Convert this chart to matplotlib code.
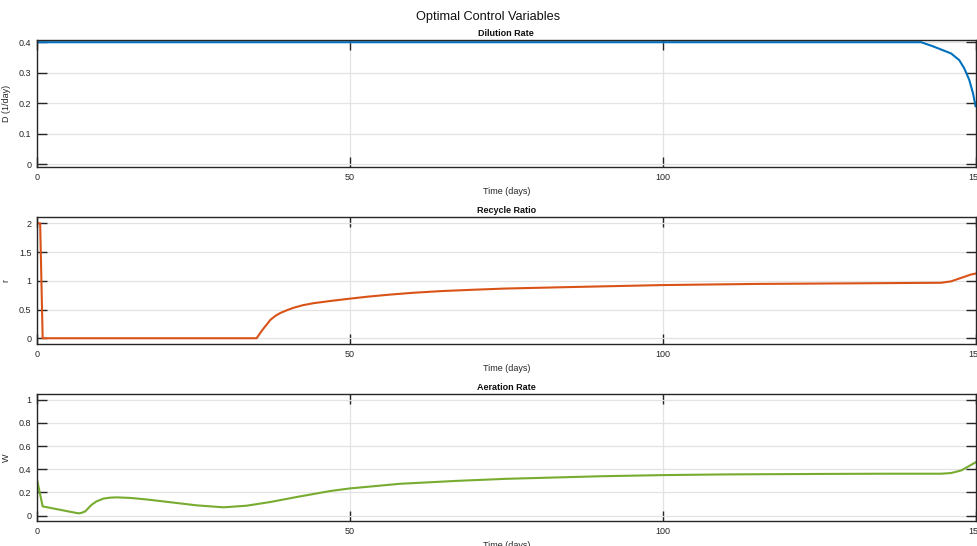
import matplotlib.pyplot as plt

plt.rcParams['font.family'] = ['Liberation Sans', 'DejaVu Sans']

# dilution rate
t_D = [0, 141.3, 143, 144.5, 146.1, 147.4, 148.2, 149, 149.6, 150]
D = [0.4, 0.4, 0.388, 0.376, 0.363, 0.341, 0.314, 0.276, 0.232, 0.19]

# recycle ratio
t_r = [0, 0.5, 0.9, 35.1, 35.6, 36.2, 36.8, 37.3, 38.1, 38.9, 40, 41, 42.5, 44.2,
       47, 50.1, 53, 56.5, 60, 64.5, 70, 75, 85, 100, 115, 130, 140, 144.5,
       146.1, 147.7, 148.5, 149.3, 150]
r = [2, 2, 0, 0, 0.08, 0.17, 0.25, 0.32, 0.39, 0.44, 0.49, 0.53, 0.575, 0.61,
     0.65, 0.69, 0.725, 0.76, 0.79, 0.82, 0.845, 0.865, 0.89, 0.925, 0.945,
     0.955, 0.962, 0.965, 0.99, 1.05, 1.08, 1.11, 1.125]

# aeration rate
t_W = [0, 0.9, 6.6, 7.1, 7.7, 8.2, 8.75, 9.5, 10.6, 11.6, 12.75, 14.9, 17.5, 20.2,
       25.5, 29.8, 33.5, 37.3, 41.5, 46.9, 50, 58, 67, 75, 90, 100, 110, 125,
       135, 144.5, 146.1, 147.7, 148.7, 150]
W = [0.31, 0.08, 0.02, 0.024, 0.037, 0.065, 0.095, 0.123, 0.147, 0.155, 0.158,
     0.153, 0.14, 0.123, 0.089, 0.072, 0.086, 0.118, 0.161, 0.213, 0.235, 0.275,
     0.30, 0.318, 0.34, 0.35, 0.356, 0.36, 0.362, 0.362, 0.368, 0.39, 0.42, 0.46]

panels = [
    (t_D, D, '#0072BD', 'Dilution Rate', 'D (1/day)', (-0.01, 0.407), [0, 0.1, 0.2, 0.3, 0.4]),
    (t_r, r, '#D95319', 'Recycle Ratio', 'r', (-0.1, 2.11), [0, 0.5, 1, 1.5, 2]),
    (t_W, W, '#77AC30', 'Aeration Rate', 'W', (-0.046, 1.05), [0, 0.2, 0.4, 0.6, 0.8, 1]),
]
bottoms = [0.694, 0.370, 0.0458]

fig = plt.figure(figsize=(9.77, 5.46), dpi=100)
fig.suptitle('Optimal Control Variables', fontsize=9.2, y=0.98, color='#111111')

for (t, y, c, title, ylab, ylim, yt), b in zip(panels, bottoms):
    ax = fig.add_axes([0.0379, b, 0.9606, 0.2326])
    ax.plot(t, y, color=c, linewidth=1.5)
    ax.set_xlim(0, 150)
    ax.set_ylim(*ylim)
    ax.set_xticks([0, 50, 100, 150])
    ax.set_xticklabels(['0', '50', '100', '150'])
    ax.set_yticks(yt)
    ax.set_yticklabels([('%g' % v) for v in yt])
    ax.grid(True, color='#e3e3e3', linewidth=0.9)
    ax.set_axisbelow(True)
    ax.tick_params(direction='in', length=7, width=1, colors='#262626',
                   labelsize=6.5, top=True, right=True, pad=4)
    for s in ax.spines.values():
        s.set_color('#262626')
        s.set_linewidth(1.0)
    ax.set_title(title, fontsize=6.5, fontweight='bold', pad=3, color='#111111')
    ax.set_xlabel('Time (days)', fontsize=6.5, color='#262626', labelpad=4)
    ax.set_ylabel(ylab, fontsize=6.5, color='#262626', labelpad=6)

fig.savefig('out.png', dpi=100)
